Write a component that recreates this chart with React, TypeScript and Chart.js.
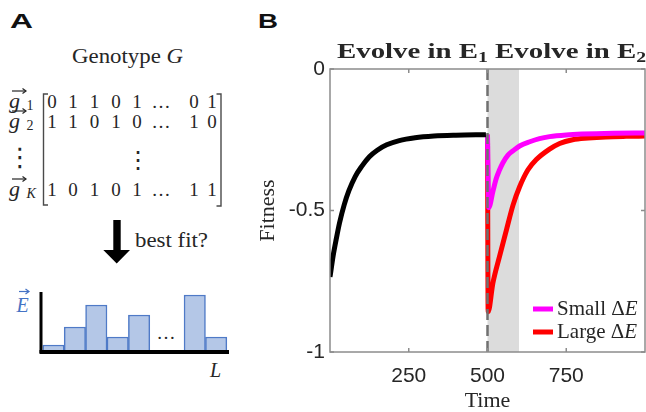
import React, { useEffect, useRef } from 'react';
import { Chart, registerables } from 'chart.js';

Chart.register(...registerables);

// ---------- Panel B data ----------
const blackTime = [0, 10, 20, 30, 45, 60, 80, 100, 125, 150, 180, 220, 270, 330, 400, 495];
const blackFitness = [-0.735, -0.66, -0.6, -0.545, -0.48, -0.43, -0.38, -0.345, -0.31, -0.287, -0.268, -0.253, -0.243, -0.237, -0.234, -0.232];
const smallTime = [500, 504, 517, 528, 538, 549, 565, 581, 602, 634, 665, 697, 750, 800, 900, 1000];
const smallFitness = [-0.232, -0.49, -0.433, -0.386, -0.357, -0.331, -0.304, -0.289, -0.272, -0.257, -0.246, -0.239, -0.233, -0.23, -0.227, -0.226];
const largeTime = [500, 502, 517, 538, 560, 581, 602, 628, 655, 697, 729, 770, 820, 876, 940, 1000];
const largeFitness = [-0.232, -0.858, -0.757, -0.663, -0.569, -0.481, -0.416, -0.357, -0.32, -0.283, -0.263, -0.25, -0.244, -0.24, -0.238, -0.237];
const xTickValues = [250, 500, 750];
const yTickValues = [-1, -0.5, 0];
const switchTime = 500;
const shadeRange = [500, 600];
const legendLabels = ['Small', 'Large'];
const titleParts = [
  { text: 'Evolve in E', sub: '1' },
  { text: ' Evolve in E', sub: '2' },
];

// ---------- Panel A data ----------
const genotypeRows = [
  ['0', '1', '1', '0', '1', '…', '0', '1'],
  ['1', '1', '0', '1', '0', '…', '1', '0'],
  ['1', '0', '1', '0', '1', '…', '1', '1'],
];
const rowSubscripts = ['1', '2', 'K'];
const barPositions = [1, 2, 3, 4, 5, 7.6, 8.6];
const barHeights = [0.7, 2.5, 4.7, 1.5, 3.7, 5.7, 1.5];

// layout (styles only)
const colX = [52, 73, 94.5, 116, 137, 161, 194, 212];
const rowBaseline = [108, 128, 196];
const TXT = '#262626';

const decorPlugin = {
  id: 'decorB',
  beforeDatasetsDraw(chart: any) {
    const { ctx, chartArea: a, scales } = chart;
    const x = scales.x;
    const x0 = x.getPixelForValue(shadeRange[0]);
    const x1 = x.getPixelForValue(shadeRange[1]);
    ctx.save();
    ctx.fillStyle = '#dcdcdc';
    ctx.fillRect(x0, a.top, x1 - x0, a.bottom - a.top);
    ctx.restore();
  },
  afterDatasetsDraw(chart: any) {
    const { ctx, chartArea: a, scales } = chart;
    const x = scales.x;
    const y = scales.y;
    ctx.save();
    // dashed switch line
    const xs = x.getPixelForValue(switchTime);
    ctx.strokeStyle = '#707070';
    ctx.lineWidth = 2.5;
    ctx.setLineDash([11, 5]);
    ctx.beginPath();
    ctx.moveTo(xs, a.top);
    ctx.lineTo(xs, a.bottom);
    ctx.stroke();
    ctx.setLineDash([]);
    // box
    ctx.strokeStyle = '#8c8c8c';
    ctx.lineWidth = 1.5;
    ctx.strokeRect(a.left, a.top, a.right - a.left, a.bottom - a.top);
    // inward ticks
    ctx.beginPath();
    x.ticks.forEach((t: any) => {
      const px = x.getPixelForValue(t.value);
      ctx.moveTo(px, a.bottom);
      ctx.lineTo(px, a.bottom - 4);
      ctx.moveTo(px, a.top);
      ctx.lineTo(px, a.top + 4);
    });
    y.ticks.forEach((t: any) => {
      const py = y.getPixelForValue(t.value);
      ctx.moveTo(a.left, py);
      ctx.lineTo(a.left + 4, py);
      ctx.moveTo(a.right, py);
      ctx.lineTo(a.right - 4, py);
    });
    ctx.stroke();

    // legend
    const legendDs = chart.data.datasets.filter((d: any) => d.legendIndex !== undefined)
      .sort((p: any, q: any) => p.legendIndex - q.legendIndex);
    legendDs.forEach((d: any, i: number) => {
      const ly = a.bottom - 43 + i * 23;
      ctx.strokeStyle = d.borderColor;
      ctx.lineWidth = 5;
      ctx.beginPath();
      ctx.moveTo(a.right - 112, ly);
      ctx.lineTo(a.right - 92, ly);
      ctx.stroke();
      const tx = a.right - 88;
      const by = ly + 6;
      ctx.fillStyle = TXT;
      ctx.textBaseline = 'alphabetic';
      ctx.textAlign = 'left';
      ctx.font = '21px "Liberation Serif"';
      const s = legendLabels[d.legendIndex] + ' \u0394';
      ctx.fillText(s, tx, by);
      const w = ctx.measureText(s).width;
      ctx.font = 'italic 21px "Liberation Serif"';
      ctx.fillText('E', tx + w, by);
    });

    // title
    const mainFont = 'bold 22px "Liberation Serif"';
    const subFont = 'bold 15px "Liberation Serif"';
    let natural = 0;
    titleParts.forEach((p) => {
      ctx.font = mainFont;
      natural += ctx.measureText(p.text).width;
      ctx.font = subFont;
      natural += ctx.measureText(p.sub).width;
    });
    const target = 309;
    const sx = target / natural;
    const cx = (a.left + a.right) / 2 + 4;
    const baseY = a.top - 11;
    ctx.translate(cx - target / 2, baseY);
    ctx.scale(sx, 1);
    ctx.fillStyle = TXT;
    let pos = 0;
    titleParts.forEach((p) => {
      ctx.font = mainFont;
      ctx.fillText(p.text, pos, 0);
      pos += ctx.measureText(p.text).width;
      ctx.font = subFont;
      ctx.fillText(p.sub, pos, 4);
      pos += ctx.measureText(p.sub).width;
    });
    ctx.restore();
  },
};

const barAxesPlugin = {
  id: 'barAxes',
  afterDatasetsDraw(chart: any) {
    const { ctx, chartArea: a } = chart;
    ctx.save();
    ctx.strokeStyle = '#000';
    ctx.lineWidth = 3;
    ctx.beginPath();
    ctx.moveTo(a.left + 1, a.top);
    ctx.lineTo(a.left + 1, a.bottom + 1);
    ctx.stroke();
    ctx.lineWidth = 4;
    ctx.beginPath();
    ctx.moveTo(a.left - 0.5, a.bottom);
    ctx.lineTo(a.right, a.bottom);
    ctx.stroke();
    ctx.restore();
  },
};

function FitnessChart() {
  const ref = useRef<HTMLCanvasElement>(null);
  useEffect(() => {
    if (!ref.current) return;
    const toPts = (xs: number[], ys: number[]) => xs.map((t, i) => ({ x: t, y: ys[i] }));
    const chart = new Chart(ref.current, {
      type: 'line',
      data: {
        datasets: [
          { label: 'Evolve in E1', data: toPts(blackTime, blackFitness), borderColor: '#000000' },
          { label: 'Small', legendIndex: 0, data: toPts(smallTime, smallFitness), borderColor: '#ff00ff' } as any,
          { label: 'Large', legendIndex: 1, data: toPts(largeTime, largeFitness), borderColor: '#ff0000' } as any,
        ],
      },
      options: {
        animation: false,
        responsive: false,
        maintainAspectRatio: false,
        events: [],
        layout: { padding: { top: 39, right: 1, left: 0, bottom: 0 } },
        plugins: { legend: { display: false }, tooltip: { enabled: false }, title: { display: false } },
        elements: {
          point: { radius: 0 },
          line: { borderWidth: 5, cubicInterpolationMode: 'monotone', borderCapStyle: 'butt', borderJoinStyle: 'round' },
        },
        scales: {
          x: {
            type: 'linear',
            min: 0,
            max: 1000,
            afterBuildTicks: (s: any) => { s.ticks = xTickValues.map((v) => ({ value: v })); },
            afterFit: (s: any) => { s.height = 60; },
            grid: { display: false, drawTicks: false, tickLength: 0 },
            border: { display: false },
            ticks: {
              font: { family: 'Liberation Sans', size: 21 },
              color: TXT,
              padding: 12,
              maxRotation: 0,
              autoSkip: false,
              callback: (v: any) => String(v),
            },
            title: {
              display: true,
              text: 'Time',
              color: TXT,
              font: { family: 'Liberation Serif', size: 22, lineHeight: 1 },
              padding: { top: 0, bottom: 0 },
            },
          },
          y: {
            type: 'linear',
            min: -1,
            max: 0,
            afterBuildTicks: (s: any) => { s.ticks = yTickValues.map((v) => ({ value: v })); },
            afterFit: (s: any) => { s.width = 80; },
            grid: { display: false, drawTicks: false, tickLength: 0 },
            border: { display: false },
            ticks: {
              font: { family: 'Liberation Sans', size: 21 },
              color: TXT,
              padding: 5,
              autoSkip: false,
              callback: (v: any) => String(v),
            },
            title: {
              display: true,
              text: 'Fitness',
              color: TXT,
              font: { family: 'Liberation Serif', size: 22, lineHeight: 1 },
              padding: { top: 7, bottom: 0 },
            },
          },
        },
      } as any,
      plugins: [decorPlugin],
    });
    return () => chart.destroy();
  }, []);
  return (
    <canvas
      ref={ref}
      width={396}
      height={382}
      style={{ position: 'absolute', left: 250, top: 30, width: 396, height: 382 }}
    />
  );
}

function BarChart() {
  const ref = useRef<HTMLCanvasElement>(null);
  useEffect(() => {
    if (!ref.current) return;
    const chart = new Chart(ref.current, {
      type: 'bar',
      data: {
        datasets: [
          {
            data: barPositions.map((x, i) => ({ x, y: barHeights[i] })),
            backgroundColor: '#b4c7e7',
            borderColor: '#4f7ac7',
            borderWidth: 1.5,
            categoryPercentage: 1,
            barPercentage: 1,
          } as any,
        ],
      },
      options: {
        animation: false,
        responsive: false,
        maintainAspectRatio: false,
        events: [],
        layout: { padding: { left: 10, right: 7, top: 10, bottom: 6 } },
        plugins: { legend: { display: false }, tooltip: { enabled: false } },
        scales: {
          x: { type: 'linear', min: 0.37, max: 9.2, display: false, offset: false },
          y: { min: 0, max: 6, display: false },
        },
      } as any,
      plugins: [barAxesPlugin],
    });
    return () => chart.destroy();
  }, []);
  return (
    <canvas
      ref={ref}
      width={206}
      height={76}
      style={{ position: 'absolute', left: 30, top: 282, width: 206, height: 76 }}
    />
  );
}

function VecArrow({ x0, x1, y, color }: { x0: number; x1: number; y: number; color: string }) {
  return (
    <g stroke={color} strokeWidth={1.2} fill="none">
      <path d={`M${x0},${y} H${x1}`} />
      <path d={`M${x1 - 3.5},${y - 2.5} L${x1},${y} L${x1 - 3.5},${y + 2.5}`} />
    </g>
  );
}

function PanelA() {
  const serif = 'Liberation Serif';
  return (
    <svg width={646} height={412} style={{ position: 'absolute', left: 0, top: 0 }}>
      <text x={10} y={28} fontFamily="Liberation Sans" fontWeight="bold" fontSize={21} fill="#111" textLength={23} lengthAdjust="spacingAndGlyphs">A</text>
      <text x={258} y={28} fontFamily="Liberation Sans" fontWeight="bold" fontSize={21} fill="#111" textLength={20} lengthAdjust="spacingAndGlyphs">B</text>

      <text x={72} y={63} fontFamily={serif} fontSize={22} fill={TXT} textLength={111} lengthAdjust="spacingAndGlyphs">
        Genotype <tspan fontStyle="italic">G</tspan>
      </text>

      {/* row labels */}
      {rowSubscripts.map((s, i) => (
        <g key={'lab' + i}>
          <text x={9} y={rowBaseline[i]} fontFamily={serif} fontStyle="italic" fontSize={22} fill={TXT}>g</text>
          <text x={26.5} y={rowBaseline[i] + 2} fontFamily={serif} fontStyle={s === 'K' ? 'italic' : 'normal'} fontSize={14} fill={TXT}>{s}</text>
          <VecArrow x0={12} x1={26} y={rowBaseline[i] - 17} color={TXT} />
        </g>
      ))}
      <text x={20} y={166} fontFamily="DejaVu Sans" fontSize={26} fill={TXT} textAnchor="middle">⋮</text>

      {/* matrix */}
      <path d="M48,94 H43.5 V205 H48" stroke="#4a4a4a" strokeWidth={1.4} fill="none" />
      <path d="M216.5,94 H221 V206 H216.5" stroke="#4a4a4a" strokeWidth={1.4} fill="none" />
      {genotypeRows.map((row, r) =>
        row.map((v, c) => (
          <text
            key={r + '-' + c}
            x={colX[c]}
            y={rowBaseline[r]}
            fontFamily={serif}
            fontSize={19}
            fill={TXT}
            textAnchor="middle"
          >
            {v}
          </text>
        ))
      )}
      <text x={colX[4] + 1} y={168} fontFamily="DejaVu Sans" fontSize={24} fill={TXT} textAnchor="middle">⋮</text>

      {/* arrow */}
      <polygon points="113.3,220 120.7,220 120.7,250 130,250 116.7,263.5 103.3,250 113.3,250" fill="#000" />
      <text x={135} y={247} fontFamily={serif} fontSize={22} fill={TXT} textLength={73} lengthAdjust="spacingAndGlyphs">best fit?</text>

      {/* bar chart labels */}
      <text x={16.5} y={312} fontFamily={serif} fontStyle="italic" fontSize={20} fill="#4472c4">E</text>
      <VecArrow x0={19} x1={29} y={291.5} color="#4472c4" />
      <text x={166} y={339} fontFamily={serif} fontSize={19} fill={TXT} textAnchor="middle">…</text>
      <text x={210} y={377} fontFamily={serif} fontStyle="italic" fontSize={20} fill={TXT}>L</text>
    </svg>
  );
}

export default function App() {
  return (
    <div style={{ position: 'absolute', left: 0, top: 0, width: 646, height: 412, background: '#fff', overflow: 'hidden' }}>
      <PanelA />
      <BarChart />
      <FitnessChart />
    </div>
  );
}
